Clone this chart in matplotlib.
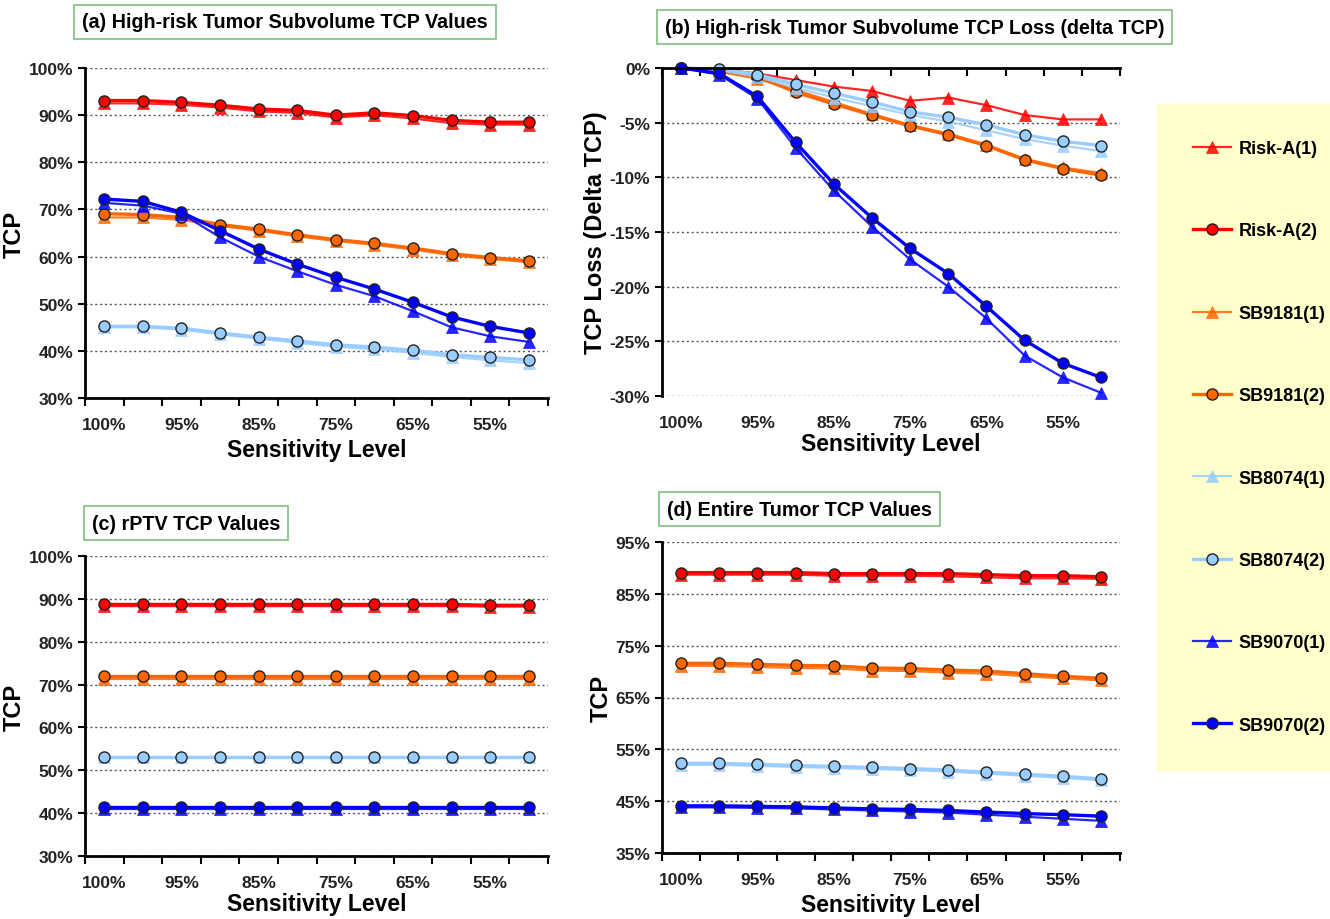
import numpy as np
import matplotlib
matplotlib.use("Agg")
import matplotlib.pyplot as plt
from matplotlib.ticker import FuncFormatter, FixedLocator

plt.rcParams['font.family'] = ['Liberation Sans', 'DejaVu Sans']
plt.rcParams['font.weight'] = 'bold'

levels = ['100%', '97.5%', '95%', '90%', '85%', '80%', '75%', '70%', '65%', '60%', '55%', '50%']
series_names = ['Risk-A(1)', 'Risk-A(2)', 'SB9181(1)', 'SB9181(2)',
                'SB8074(1)', 'SB8074(2)', 'SB9070(1)', 'SB9070(2)']

# (a) high-risk subvolume TCP (%)
a_riskA1 = [92.5, 92.5, 92.2, 91.6, 90.8, 90.5, 89.5, 90.0, 89.3, 88.3, 88.0, 88.0]
a_riskA2 = [93.1, 93.1, 92.7, 92.1, 91.3, 91.0, 90.0, 90.5, 89.9, 88.9, 88.5, 88.5]
a_sb9181_1 = [68.3, 68.3, 67.8, 66.5, 65.5, 64.3, 63.3, 62.5, 61.5, 60.3, 59.5, 58.8]
a_sb9181_2 = [69.1, 68.9, 68.3, 66.8, 65.8, 64.6, 63.6, 62.8, 61.8, 60.6, 59.8, 59.1]
a_sb8074_1 = [45.0, 45.0, 44.5, 43.5, 42.6, 41.7, 40.9, 40.3, 39.6, 38.7, 38.0, 37.4]
a_sb8074_2 = [45.2, 45.2, 44.8, 43.8, 42.9, 42.1, 41.3, 40.8, 40.1, 39.2, 38.6, 38.1]
a_sb9070_1 = [71.4, 70.8, 69.1, 64.1, 60.0, 56.9, 54.0, 51.6, 48.4, 45.0, 43.1, 41.9]
a_sb9070_2 = [72.2, 71.7, 69.4, 65.5, 61.6, 58.4, 55.6, 53.1, 50.3, 47.2, 45.2, 43.8]

# (b) delta TCP (%)
b_riskA1 = [0, -0.1, -0.5, -1.1, -1.7, -2.1, -3.0, -2.7, -3.4, -4.3, -4.7, -4.7]
b_sb9181_1 = [0, -0.3, -1.0, -2.0, -3.1, -4.2, -5.2, -6.0, -7.0, -8.3, -9.1, -9.6]
b_sb9181_2 = [0, -0.3, -0.8, -2.2, -3.3, -4.3, -5.3, -6.1, -7.1, -8.4, -9.2, -9.8]
b_sb8074_1 = [0, -0.2, -0.8, -1.8, -2.7, -3.5, -4.3, -4.9, -5.7, -6.5, -7.1, -7.6]
b_sb8074_2 = [0, -0.1, -0.6, -1.5, -2.3, -3.1, -4.0, -4.5, -5.2, -6.1, -6.7, -7.1]
b_sb9070_1 = [0, -0.6, -2.8, -7.3, -11.2, -14.5, -17.5, -20.0, -22.9, -26.3, -28.3, -29.7]
b_sb9070_2 = [0, -0.5, -2.6, -6.8, -10.6, -13.7, -16.5, -18.8, -21.8, -24.9, -27.0, -28.3]

# (c) rPTV TCP (%)
c_riskA1 = [88.3, 88.3, 88.3, 88.3, 88.3, 88.3, 88.3, 88.3, 88.3, 88.3, 88.2, 88.2]
c_riskA2 = [88.7, 88.7, 88.7, 88.7, 88.7, 88.7, 88.7, 88.7, 88.7, 88.7, 88.5, 88.5]
c_sb9181_1 = [71.3] * 12
c_sb9181_2 = [71.9] * 12
c_sb8074_1 = [53.0] * 12
c_sb8074_2 = [53.1] * 12
c_sb9070_1 = [41.0] * 12
c_sb9070_2 = [41.4] * 12

# (d) entire tumor TCP (%)
d_riskA1 = [88.7, 88.7, 88.7, 88.7, 88.5, 88.5, 88.5, 88.4, 88.2, 88.0, 88.0, 87.9]
d_riskA2 = [89.1, 89.1, 89.1, 89.1, 88.9, 88.9, 88.9, 88.9, 88.7, 88.5, 88.5, 88.3]
d_sb9181_1 = [71.1, 71.1, 70.9, 70.7, 70.6, 70.2, 70.1, 69.8, 69.6, 69.1, 68.7, 68.3]
d_sb9181_2 = [71.6, 71.6, 71.4, 71.2, 71.1, 70.7, 70.6, 70.3, 70.1, 69.6, 69.1, 68.7]
d_sb8074_1 = [52.0, 52.0, 51.8, 51.6, 51.4, 51.2, 51.0, 50.7, 50.3, 49.9, 49.5, 49.0]
d_sb8074_2 = [52.3, 52.3, 52.1, 51.9, 51.7, 51.5, 51.3, 51.0, 50.6, 50.2, 49.8, 49.3]
d_sb9070_1 = [43.8, 43.8, 43.7, 43.6, 43.4, 43.2, 43.0, 42.8, 42.4, 42.0, 41.6, 41.2]
d_sb9070_2 = [44.1, 44.1, 44.0, 43.9, 43.7, 43.5, 43.4, 43.2, 42.9, 42.6, 42.4, 42.1]

colors = {'Risk-A': '#ff0000', 'SB9181': '#ff6600', 'SB8074': '#99ccff', 'SB9070': '#0000ff'}

def style(name):
    base = name.split('(')[0]
    c = colors[base]
    if name.endswith('(1)'):
        return dict(color=c, lw=1.6, alpha=0.85, marker='^', ms=8, mfc=c, mec=c, mew=0.5)
    return dict(color=c, lw=2.4, marker='o', ms=8, mfc=c, mec='#222222', mew=1.0)

x = np.arange(len(levels))

fig = plt.figure(figsize=(13.3, 9.2), dpi=100)
W, H = 1330, 920

def make_ax(l, r, t, b):
    return fig.add_axes([l / W, 1 - b / H, (r - l) / W, (b - t) / H])

ax_a = make_ax(85, 548, 69, 399)
ax_b = make_ax(662, 1120, 69, 397)
ax_c = make_ax(85, 548, 557, 857)
ax_d = make_ax(662, 1120, 543, 854)

pct = FuncFormatter(lambda v, p: f'{v:.0f}%')

def setup(ax, ylim, yticks, ylabel, top_axis=False, xpad=0):
    ax.set_xlim(-0.5, len(levels) - 0.5)
    ax.set_ylim(*ylim)
    ax.set_yticks(yticks)
    ax.yaxis.set_major_formatter(pct)
    ax.set_xticks(x[::2])
    ax.set_xticklabels(levels[::2])
    ax.xaxis.set_minor_locator(FixedLocator(np.arange(-0.5, len(levels), 1)))
    ax.spines['right'].set_visible(False)
    ax.spines['left'].set_linewidth(2)
    if top_axis:
        ax.spines['bottom'].set_visible(False)
        ax.spines['top'].set_linewidth(2)
        ax.tick_params(axis='x', which='minor', top=True, bottom=False, direction='in', length=6, width=1.5)
    else:
        ax.spines['top'].set_visible(False)
        ax.spines['bottom'].set_linewidth(2)
        ax.tick_params(axis='x', which='minor', bottom=True, direction='out', length=6, width=1.5)
    ax.tick_params(axis='x', which='major', length=0, pad=14, labelsize=12.5, labelcolor='#222222')
    ax.tick_params(axis='y', which='major', direction='out', length=5, width=1.5, labelsize=12.5, labelcolor='#222222')
    for v in yticks:
        ax.axhline(v, color='#555555', lw=1, ls=(0, (1.5, 2)), zorder=0)
    ax.set_ylabel(ylabel, fontsize=17, fontweight='bold', labelpad=2)
    ax.set_xlabel('Sensitivity Level', fontsize=16.5, fontweight='bold', labelpad=xpad)

def draw(ax, data):
    for name, vals in data:
        ax.plot(x, vals, label=name, clip_on=False, **style(name))

draw(ax_a, [('Risk-A(1)', a_riskA1), ('Risk-A(2)', a_riskA2), ('SB9181(1)', a_sb9181_1),
            ('SB9181(2)', a_sb9181_2), ('SB8074(1)', a_sb8074_1), ('SB8074(2)', a_sb8074_2),
            ('SB9070(1)', a_sb9070_1), ('SB9070(2)', a_sb9070_2)])
setup(ax_a, (30, 100), range(30, 101, 10), 'TCP', xpad=4)

draw(ax_b, [('Risk-A(1)', b_riskA1), ('SB9181(1)', b_sb9181_1), ('SB9181(2)', b_sb9181_2),
            ('SB8074(1)', b_sb8074_1), ('SB8074(2)', b_sb8074_2),
            ('SB9070(1)', b_sb9070_1), ('SB9070(2)', b_sb9070_2)])
setup(ax_b, (-30, 0), range(-30, 1, 5), 'TCP Loss (Delta TCP)', top_axis=True, xpad=1)

draw(ax_c, [('Risk-A(1)', c_riskA1), ('Risk-A(2)', c_riskA2), ('SB9181(1)', c_sb9181_1),
            ('SB9181(2)', c_sb9181_2), ('SB8074(1)', c_sb8074_1), ('SB8074(2)', c_sb8074_2),
            ('SB9070(1)', c_sb9070_1), ('SB9070(2)', c_sb9070_2)])
setup(ax_c, (30, 100), range(30, 101, 10), 'TCP', xpad=1)

draw(ax_d, [('Risk-A(1)', d_riskA1), ('Risk-A(2)', d_riskA2), ('SB9181(1)', d_sb9181_1),
            ('SB9181(2)', d_sb9181_2), ('SB8074(1)', d_sb8074_1), ('SB8074(2)', d_sb8074_2),
            ('SB9070(1)', d_sb9070_1), ('SB9070(2)', d_sb9070_2)])
setup(ax_d, (35, 95), range(35, 96, 10), 'TCP', xpad=4)

# panel titles in green boxes
box = dict(boxstyle='square,pad=0.4', fc='white', ec='#7fbf7f', lw=1.2)
tfs = 14.2
fig.text(82 / W, 1 - 23 / H, '(a) High-risk Tumor Subvolume TCP Values', fontsize=tfs, fontweight='bold', va='center', bbox=box)
fig.text(665 / W, 1 - 28 / H, '(b) High-risk Tumor Subvolume TCP Loss (delta TCP)', fontsize=tfs, fontweight='bold', va='center', bbox=box)
fig.text(92 / W, 1 - 524 / H, '(c) rPTV TCP Values', fontsize=tfs, fontweight='bold', va='center', bbox=box)
fig.text(667 / W, 1 - 510 / H, '(d) Entire Tumor TCP Values', fontsize=tfs, fontweight='bold', va='center', bbox=box)

handles, labels = ax_a.get_legend_handles_labels()
leg = fig.legend(handles, labels, loc='upper left', bbox_to_anchor=(1157 / W, 1 - 105 / H),
                 borderaxespad=0, frameon=True, fancybox=False, facecolor='#ffffcc', edgecolor='#ffffcc',
                 labelspacing=3.62, handlelength=2.1, handletextpad=0.4, borderpad=2.0,
                 prop={'weight': 'bold', 'size': 13})
leg.get_frame().set_alpha(1)

fig.savefig('out.png', dpi=100)
